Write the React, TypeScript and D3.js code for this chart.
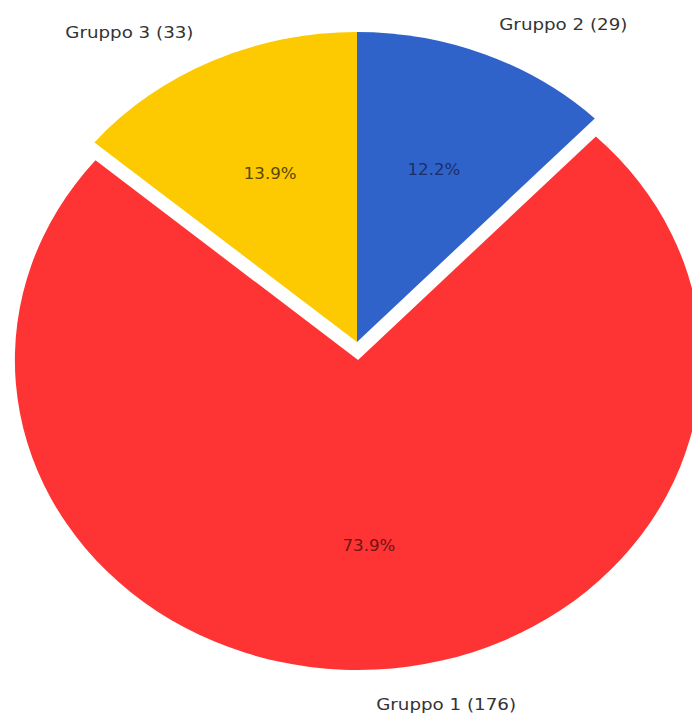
import React from "react";
import * as d3 from "d3";

const categories = ["Gruppo 2", "Gruppo 1", "Gruppo 3"];
const values = [29, 176, 33];
const colors = ["#2f63c9", "#fe3333", "#fdc900"];
const pctColors = ["#1b2f6b", "#6e1515", "#5a4700"];

const W = 692;
const H = 716;
const CX = 357;
const CY = 342;
const R = 310;
const SX = 1.107;

// layout tweaks (degrees) for outer labels, and explode offset per slice
const explode = [0, 18, 0];
const labelNudge = [8.5, -10, -8.6];
const labelRadius = [368, 353, 372];

export default function App() {
  const total = d3.sum(values);
  const data = categories.map((c, i) => ({ c, v: values[i], i }));
  const pie = d3
    .pie<any>()
    .sort(null)
    .value((d) => d.v)
    .startAngle(0)
    .endAngle(2 * Math.PI);
  const arcs = pie(data);
  const arc = d3.arc<any>().innerRadius(0).outerRadius(R);
  const fmt = d3.format(".1f");
  const font = "'DejaVu Sans', sans-serif";

  return (
    <svg
      width={W}
      height={H}
      style={{ position: "absolute", left: 0, top: 0, display: "block", background: "#fff" }}
    >
      <g transform={`translate(${CX},${CY}) scale(${SX},1)`}>
        {arcs.map((a, k) => {
          const mid = (a.startAngle + a.endAngle) / 2;
          const e = explode[k];
          const ox = Math.sin(mid) * e;
          const oy = -Math.cos(mid) * e;
          return (
            <g key={k} transform={`translate(${ox},${oy})`}>
              <path d={arc(a) as string} fill={colors[k]} />
            </g>
          );
        })}
        {arcs.map((a, k) => {
          const mid = (a.startAngle + a.endAngle) / 2;
          const e = explode[k];
          const ox = Math.sin(mid) * e;
          const oy = -Math.cos(mid) * e;
          const lr = R * 0.6;
          const px = ox + Math.sin(mid) * lr;
          const py = oy - Math.cos(mid) * lr;
          const la = mid + (labelNudge[k] * Math.PI) / 180;
          const qx = ox + Math.sin(la) * labelRadius[k];
          const qy = oy - Math.cos(la) * labelRadius[k];
          return (
            <g key={"l" + k}>
              <text
                x={px}
                y={py}
                textAnchor="middle"
                dominantBaseline="central"
                fontFamily={font}
                fontSize={15}
                fill={pctColors[k]}
              >
                {fmt((a.data.v / total) * 100)}%
              </text>
              <text
                x={qx}
                y={qy}
                textAnchor="middle"
                dominantBaseline="central"
                fontFamily={font}
                fontSize={16.5}
                fill="#333"
              >
                {`${a.data.c} (${a.data.v})`}
              </text>
            </g>
          );
        })}
      </g>
    </svg>
  );
}
